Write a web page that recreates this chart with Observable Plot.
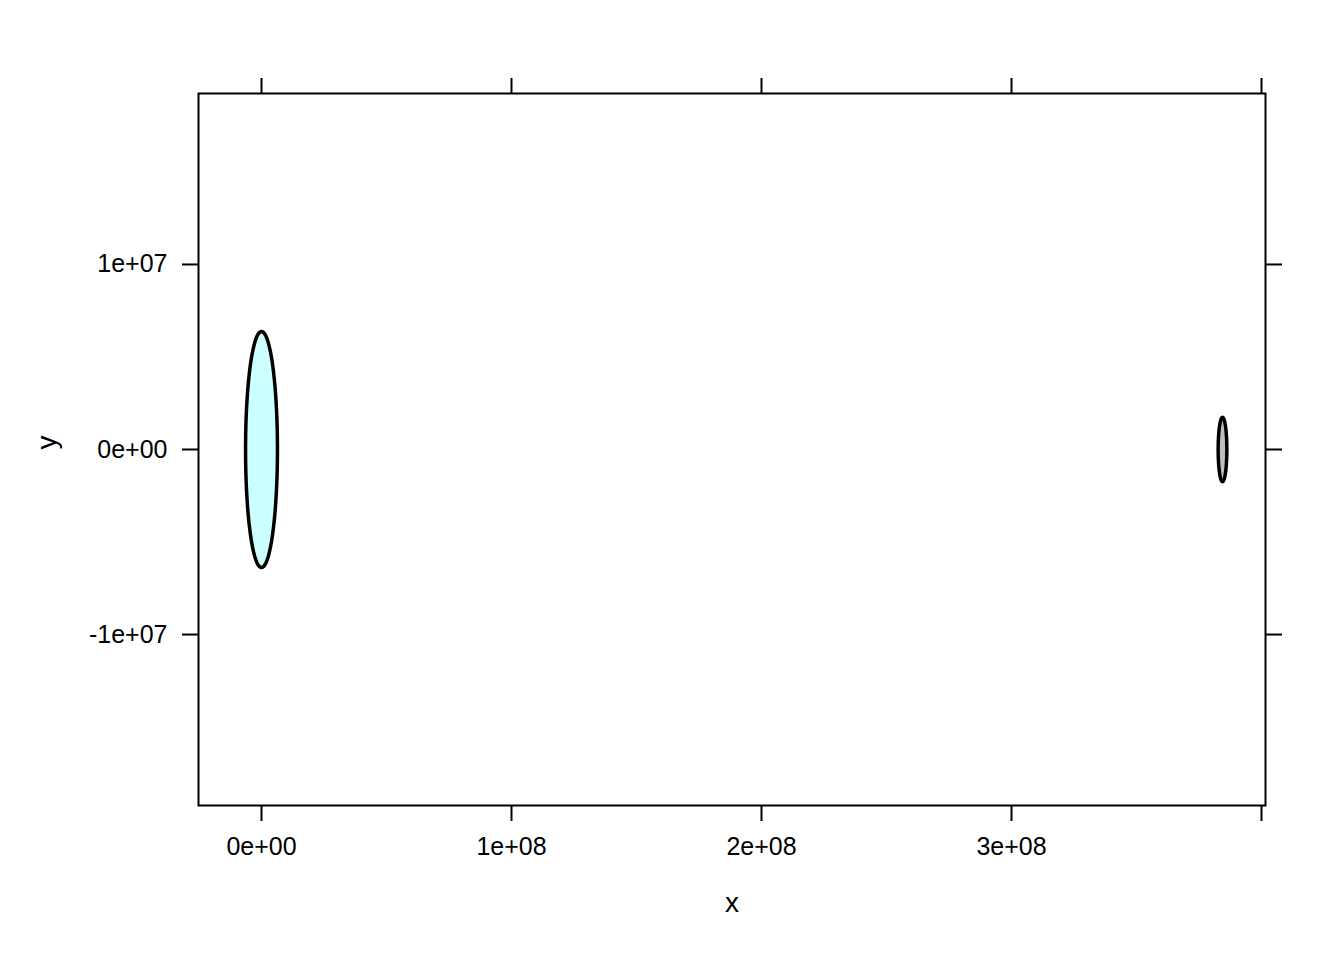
<!DOCTYPE html>
<html>
<head>
<meta charset="utf-8">
<script src="https://cdn.jsdelivr.net/npm/d3@7"></script>
<script src="https://cdn.jsdelivr.net/npm/@observablehq/plot@0.6"></script>
<style>
  html, body { margin: 0; padding: 0; background: #fff; }
  svg { display: block; }
</style>
</head>
<body>
<div id="chart"></div>
<script>
// Data: bodies (Earth, Moon) as circles in data units
const names = ["Earth", "Moon"];
const centerX = [0, 3.844e8];
const centerY = [0, 0];
const radius = [6.378e6, 1.737e6];
const fills = ["#CCFFFF", "#BEBEBE"];

const xTicks = [0, 1e8, 2e8, 3e8, 4e8];
const xTickLabels = ["0e+00", "1e+08", "2e+08", "3e+08", ""];
const yTicks = [-1e7, 0, 1e7];
const yTickLabels = ["-1e+07", "0e+00", "1e+07"];

const xDomain = [-2.52e7, 4.016e8];
const yDomain = [-1.924e7, 1.924e7];

// Outline points of each circle
const N = 180;
const outline = [];
names.forEach((name, i) => {
  for (let k = 0; k <= N; k++) {
    const t = (2 * Math.PI * k) / N;
    outline.push({
      body: name,
      x: centerX[i] + radius[i] * Math.cos(t),
      y: centerY[i] + radius[i] * Math.sin(t)
    });
  }
});

const font = "Liberation Sans, Arial, sans-serif";
const fmtX = (v) => xTickLabels[xTicks.indexOf(v)];
const fmtY = (v) => yTickLabels[yTicks.indexOf(v)];

const chart = Plot.plot({
  width: 1344,
  height: 960,
  marginLeft: 198,
  marginRight: 79,
  marginTop: 93,
  marginBottom: 155,
  style: { fontFamily: font, fontSize: "25px", background: "#fff", color: "#000" },
  x: { domain: xDomain },
  y: { domain: yDomain },
  marks: [
    ...names.map((name, i) =>
      Plot.line(outline.filter(d => d.body === name), {
        x: "x", y: "y", fill: fills[i], stroke: "#000", strokeWidth: 3.5, curve: "linear"
      })
    ),
    Plot.frame({ stroke: "#000", strokeWidth: 2 }),
    Plot.axisX({ anchor: "bottom", ticks: xTicks, tickFormat: fmtX, tickSize: 16, tickPadding: 16, strokeWidth: 2, fontSize: 25, label: null }),
    Plot.axisX({ anchor: "top", ticks: xTicks, tickFormat: () => "", tickSize: 16, strokeWidth: 2, label: null }),
    Plot.axisY({ anchor: "left", ticks: yTicks, tickFormat: fmtY, tickSize: 16, tickPadding: 15, strokeWidth: 2, fontSize: 25, label: null }),
    Plot.axisY({ anchor: "right", ticks: yTicks, tickFormat: () => "", tickSize: 16, strokeWidth: 2, label: null }),
    Plot.text(["x"], { frameAnchor: "bottom", dy: 98, fontSize: 28, text: d => d, lineAnchor: "middle" }),
    Plot.text(["y"], { frameAnchor: "left", dx: -151, fontSize: 28, rotate: -90, text: d => d })
  ]
});
document.getElementById("chart").appendChild(chart);
</script>
</body>
</html>
